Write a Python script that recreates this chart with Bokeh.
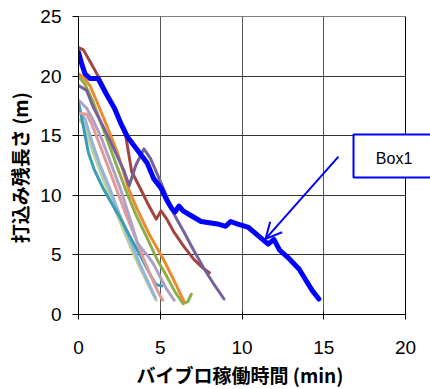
from bokeh.plotting import figure
from bokeh.models import FixedTicker, Label, Arrow, OpenHead, Range1d, BoxAnnotation, Title
from bokeh.embed import file_html
from bokeh.resources import INLINE

# ---- data (time [min], remaining length [m]) ----
blue_t = [0, 0.2, 0.4, 0.7, 1.2, 1.7, 2.2, 2.6, 3.0, 3.6, 4.2, 4.6, 5.05, 5.4, 5.7, 5.9, 6.15, 6.4, 7.0, 7.5, 8.5, 9.0, 9.3, 9.7, 10.4, 11.0, 11.6, 11.95, 12.3, 12.8, 13.5, 13.9, 14.3, 14.7]
blue_L = [22.0, 21.0, 20.2, 19.8, 19.8, 18.5, 17.3, 16.0, 14.9, 13.8, 12.7, 11.4, 10.6, 9.6, 8.9, 8.6, 9.1, 8.7, 8.2, 7.8, 7.6, 7.4, 7.8, 7.6, 7.3, 6.6, 5.9, 6.3, 5.4, 4.8, 3.8, 2.9, 2.0, 1.3]

red_t = [0, 0.3, 0.8, 1.2, 1.8, 2.4, 2.9, 3.25, 3.7, 4.2, 4.75, 5.05, 5.4, 5.8, 6.45, 7.07, 7.6, 8.0]
red_L = [22.4, 22.2, 21.0, 20.0, 18.4, 16.6, 14.9, 12.0, 10.8, 9.4, 8.0, 8.7, 8.0, 7.0, 5.7, 4.6, 3.9, 3.5]

purple_t = [0, 0.5, 0.9, 1.5, 2.2, 2.8, 3.1, 3.5, 4.0, 4.4, 5.0, 5.85, 6.5, 7.0, 7.7, 8.3, 8.9]
purple_L = [19.2, 18.8, 17.4, 15.8, 13.8, 12.0, 10.8, 12.5, 13.9, 13.1, 11.2, 8.4, 6.8, 5.5, 3.8, 2.5, 1.3]

orange_t = [0, 0.3, 0.7, 1.2, 1.8, 2.4, 3.1, 3.6, 4.3, 5.05, 5.5, 6.0, 6.45]
orange_L = [20.2, 19.9, 19.2, 17.6, 15.6, 13.5, 10.4, 8.8, 6.8, 5.0, 3.8, 2.4, 1.1]

olive_t = [0, 0.4, 0.9, 1.5, 2.2, 2.9, 3.5, 4.2, 4.85, 5.4, 5.9, 6.4, 6.7, 6.9]
olive_L = [20.0, 19.3, 17.8, 15.6, 13.0, 10.4, 8.4, 6.4, 4.5, 3.2, 1.9, 0.9, 1.1, 1.7]

lilac_t = [0, 0.5, 0.9, 1.4, 2.0, 2.6, 3.2, 3.6, 4.0, 4.25, 4.6, 5.05, 5.4, 5.85]
lilac_L = [18.0, 17.3, 16.3, 14.8, 12.6, 10.4, 7.8, 6.0, 5.3, 4.9, 4.2, 3.0, 2.1, 1.2]

teal_t = [0, 0.15, 0.35, 0.6, 0.95, 1.5, 2.0, 2.6, 3.2, 3.8, 4.4, 4.75, 5.1]
teal_L = [17.8, 16.8, 15.4, 13.6, 12.2, 10.6, 9.4, 8.0, 6.4, 4.9, 3.3, 2.5, 2.4]

pink_t = [0, 0.5, 0.8, 1.2, 1.7, 2.3, 2.9, 3.5, 4.0, 4.5, 4.9, 5.15]
pink_L = [16.9, 16.8, 16.0, 14.6, 12.8, 10.6, 8.4, 6.4, 4.6, 3.0, 1.8, 1.2]

lgreen_t = [0, 0.3, 0.6, 1.0, 1.5, 2.0, 2.6, 3.2, 3.8, 4.3, 4.75]
lgreen_L = [16.4, 16.0, 14.8, 13.2, 11.4, 9.6, 7.6, 5.6, 3.8, 2.4, 1.2]

lblue_t = [0, 0.4, 0.8, 1.3, 1.9, 2.5, 3.1, 3.7, 4.3, 4.7]
lblue_L = [17.2, 16.4, 14.6, 12.6, 10.6, 8.4, 6.4, 4.4, 2.6, 1.4]

x_ticks = [0, 5, 10, 15, 20]
y_ticks = [0, 5, 10, 15, 20, 25]
x_title = "バイブロ稼働時間  (min)"
y_title = "打込み残長さ  (m)"
callout_text = "Box1"
callout_pos = (19.3, 13.1)
callout_box = dict(left=16.82, right=21.9, bottom=11.5, top=15.1)
arrow_from = (15.9, 13.25)
arrow_to = (11.44, 6.34)

X_MAX, Y_MAX = 20, 25
FRAME_W = 352   # frame runs past x=20 so the callout box is not clipped
PLOT_W = 327    # pixels for 0..20

thin_series = [
    (lgreen_t, lgreen_L, "#BDD398"),
    (lblue_t, lblue_L, "#93B3DA"),
    (teal_t, teal_L, "#3A9DB5"),
    (pink_t, pink_L, "#E29A98"),
    (lilac_t, lilac_L, "#AFA0C6"),
    (olive_t, olive_L, "#8DAE4C"),
    (orange_t, orange_L, "#EE8A2E"),
    (red_t, red_L, "#A5443F"),
    (purple_t, purple_L, "#76629A"),
]

p = figure(width=430, height=389, output_backend="svg", toolbar_location=None,
           x_range=Range1d(0, X_MAX * FRAME_W / PLOT_W), y_range=Range1d(0, Y_MAX),
           min_border_left=78, min_border_right=0, min_border_top=16, min_border_bottom=66)
p.background_fill_color = "white"
p.border_fill_color = "white"
p.outline_line_color = None

for t, L, c in thin_series:
    p.line(t, L, line_color=c, line_width=3, line_join="round", line_cap="round")
p.line(blue_t, blue_L, line_color="#0000FF", line_width=5, line_join="round", line_cap="round")

p.xaxis.ticker = FixedTicker(ticks=x_ticks)
p.yaxis.ticker = FixedTicker(ticks=y_ticks)
p.xaxis.bounds = (0, X_MAX)
for ax in (p.xaxis[0], p.yaxis[0]):
    ax.axis_line_color = "black"
    ax.axis_line_width = 1
    ax.major_tick_line_color = "black"
    ax.minor_tick_line_color = None
    ax.major_label_text_font = "Liberation Sans"
    ax.major_label_text_font_size = "19px"
    ax.major_label_text_color = "black"
    ax.axis_label_text_font = "Noto Sans CJK JP"
    ax.axis_label_text_font_size = "19px"
    ax.axis_label_text_font_style = "bold"
    ax.axis_label_text_color = "black"
p.xaxis.major_tick_out = 5
p.xaxis.major_tick_in = 3
p.yaxis.major_tick_out = 6
p.yaxis.major_tick_in = 0
p.xaxis.major_label_standoff = 21
p.yaxis.major_label_standoff = 11
p.yaxis.axis_label = y_title
p.yaxis.axis_label_standoff = 4

# x-axis title centred under the 0..20 span (the frame itself is wider)
p.add_layout(Title(text=x_title, align="left", offset=58, standoff=4,
                   text_font="Noto Sans CJK JP", text_font_size="19px",
                   text_font_style="bold", text_color="black"), "below")

p.xgrid.ticker = FixedTicker(ticks=x_ticks)
p.ygrid.ticker = FixedTicker(ticks=y_ticks)
p.xgrid.grid_line_color = "#555555"
p.ygrid.grid_line_color = "#333333"
p.xgrid.grid_line_width = 1
p.ygrid.grid_line_width = 1

# blank area right of x=20 and the plot-area border
p.add_layout(BoxAnnotation(left=X_MAX, fill_color="white", fill_alpha=1.0, line_color=None))
p.add_layout(BoxAnnotation(left=0, right=X_MAX, bottom=0, top=Y_MAX,
                           fill_alpha=0, line_color="black", line_width=1, line_alpha=1))

p.add_layout(Arrow(end=OpenHead(line_color="#0000FF", line_width=2, size=16),
                   x_start=arrow_from[0], y_start=arrow_from[1],
                   x_end=arrow_to[0], y_end=arrow_to[1],
                   line_color="#0000FF", line_width=2))
p.add_layout(BoxAnnotation(**callout_box, fill_color="white", fill_alpha=1.0,
                           line_color="#0000FF", line_width=2, line_alpha=1))
p.add_layout(Label(x=callout_pos[0], y=callout_pos[1], text=callout_text,
                   text_align="center", text_baseline="middle",
                   text_font="Liberation Sans", text_font_size="16px", text_color="black"))

open("out.html", "w").write(file_html(p, INLINE))
